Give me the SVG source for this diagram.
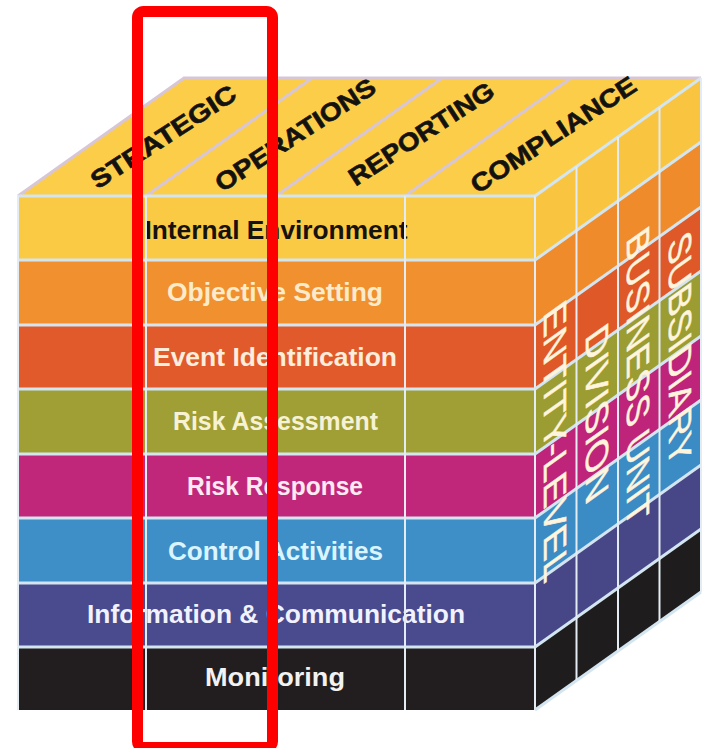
<svg xmlns="http://www.w3.org/2000/svg" width="705" height="748" viewBox="0 0 705 748">
<style>
.ft{font-family:"Liberation Sans",Arial,sans-serif;font-weight:bold;font-size:25px;text-anchor:middle}
.tt{font-family:"Liberation Sans",Arial,sans-serif;font-weight:bold;font-size:25px;text-anchor:middle;fill:#141210;stroke:#141210;stroke-width:0.6}
.rt{font-family:"Liberation Sans",Arial,sans-serif;font-size:32px;fill:#FFF4DC;stroke:#FFF4DC;stroke-width:0.5}
.gl{stroke:#D3E5F0;stroke-width:3;fill:none}
.gv{stroke:#E2ECF2;stroke-width:2;fill:none}
.tl{stroke:#D8C6D6;stroke-width:3;fill:none}
</style>
<rect width="705" height="748" fill="#FFFFFF"/>

<g id="top-face">
  <polygon points="18,196 184,78 701,78 535,196" fill="#FBCD48"/>
  <g id="top-lines">
    <line class="tl" x1="146" y1="196" x2="312" y2="78"/>
    <line class="tl" x1="276" y1="196" x2="442" y2="78"/>
    <line class="tl" x1="405" y1="196" x2="571" y2="78"/>
    <polyline class="tl" points="18,196 184,78 701,78"/>
  </g>
  <g id="obj-strategic"><text class="tt" transform="translate(168,144) rotate(-33)" textLength="168" lengthAdjust="spacingAndGlyphs">STRATEGIC</text></g>
  <g id="obj-operations"><text class="tt" transform="translate(300,142) rotate(-33)" textLength="186" lengthAdjust="spacingAndGlyphs">OPERATIONS</text></g>
  <g id="obj-reporting"><text class="tt" transform="translate(426,141) rotate(-33)" textLength="168" lengthAdjust="spacingAndGlyphs">REPORTING</text></g>
  <g id="obj-compliance"><text class="tt" transform="translate(558,142) rotate(-33)" textLength="192" lengthAdjust="spacingAndGlyphs">COMPLIANCE</text></g>
</g>

<g id="front-face">
  <g id="row-internal-environment">
    <rect x="18" y="196" width="517" height="64" fill="#FBCA44"/>
    <text class="ft" x="276" y="239" fill="#15120F" textLength="263" lengthAdjust="spacingAndGlyphs">Internal Environment</text>
  </g>
  <g id="row-objective-setting">
    <rect x="18" y="260" width="517" height="65" fill="#F1902E"/>
    <text class="ft" x="275" y="301" fill="#FCEBCB" textLength="216" lengthAdjust="spacingAndGlyphs">Objective Setting</text>
  </g>
  <g id="row-event-identification">
    <rect x="18" y="325" width="517" height="64" fill="#E05A2B"/>
    <text class="ft" x="275" y="366" fill="#FDEDDD" textLength="244" lengthAdjust="spacingAndGlyphs">Event Identification</text>
  </g>
  <g id="row-risk-assessment">
    <rect x="18" y="389" width="517" height="65" fill="#9F9F35"/>
    <text class="ft" x="275.5" y="430" fill="#F7F2D4" textLength="205" lengthAdjust="spacingAndGlyphs">Risk Assessment</text>
  </g>
  <g id="row-risk-response">
    <rect x="18" y="454" width="517" height="64" fill="#C0277B"/>
    <text class="ft" x="275" y="495" fill="#FCEAF2" textLength="176" lengthAdjust="spacingAndGlyphs">Risk Response</text>
  </g>
  <g id="row-control-activities">
    <rect x="18" y="518" width="517" height="65" fill="#3E8FC8"/>
    <text class="ft" x="275.5" y="560" fill="#DAF5FF" textLength="215" lengthAdjust="spacingAndGlyphs">Control Activities</text>
  </g>
  <g id="row-information-communication">
    <rect x="18" y="583" width="517" height="64" fill="#4A4A8E"/>
    <text class="ft" x="276" y="623" fill="#F2F2FF" textLength="378" lengthAdjust="spacingAndGlyphs">Information &amp; Communication</text>
  </g>
  <g id="row-monitoring">
    <rect x="18" y="647" width="517" height="63" fill="#221E1F"/>
    <text class="ft" x="275" y="686" fill="#F2F2F2" textLength="140" lengthAdjust="spacingAndGlyphs">Monitoring</text>
  </g>
</g>

<g id="right-face">
  <polygon points="535,196 701,78 701,142 535,260" fill="#F9C540"/>
  <polygon points="535,260 701,142 701,207 535,325" fill="#EF8B2B"/>
  <polygon points="535,325 701,207 701,271 535,389" fill="#DE5828"/>
  <polygon points="535,389 701,271 701,336 535,454" fill="#9B9D33"/>
  <polygon points="535,454 701,336 701,400 535,518" fill="#BE2479"/>
  <polygon points="535,518 701,400 701,465 535,583" fill="#3B8CC5"/>
  <polygon points="535,583 701,465 701,529 535,647" fill="#474788"/>
  <polygon points="535,647 701,529 701,592 535,710" fill="#1F1C1D"/>
</g>

<g id="grid-lines">
  <line class="gl" x1="18" y1="260" x2="535" y2="260"/>
  <line class="gl" x1="18" y1="325" x2="535" y2="325"/>
  <line class="gl" x1="18" y1="389" x2="535" y2="389"/>
  <line class="gl" x1="18" y1="454" x2="535" y2="454"/>
  <line class="gl" x1="18" y1="518" x2="535" y2="518"/>
  <line class="gl" x1="18" y1="583" x2="535" y2="583"/>
  <line class="gl" x1="18" y1="647" x2="535" y2="647"/>
  <line class="gl" x1="18" y1="196" x2="535" y2="196"/>
  <line class="gv" x1="146" y1="196" x2="146" y2="710"/>
  <line class="gv" x1="276" y1="196" x2="276" y2="710"/>
  <line class="gv" x1="405" y1="196" x2="405" y2="710"/>
  <line class="gv" x1="535" y1="196" x2="535" y2="710"/>
  <line class="gv" x1="18" y1="196" x2="18" y2="710"/>
  <line class="gl" x1="535" y1="196" x2="701" y2="78"/>
  <line class="gl" x1="535" y1="260" x2="701" y2="142"/>
  <line class="gl" x1="535" y1="325" x2="701" y2="207"/>
  <line class="gl" x1="535" y1="389" x2="701" y2="271"/>
  <line class="gl" x1="535" y1="454" x2="701" y2="336"/>
  <line class="gl" x1="535" y1="518" x2="701" y2="400"/>
  <line class="gl" x1="535" y1="583" x2="701" y2="465"/>
  <line class="gl" x1="535" y1="647" x2="701" y2="529"/>
  <line class="gl" x1="535" y1="710" x2="701" y2="592"/>
  <line class="gv" x1="576.5" y1="166.5" x2="576.5" y2="680.5"/>
  <line class="gv" x1="618" y1="137" x2="618" y2="651"/>
  <line class="gv" x1="659.5" y1="107.5" x2="659.5" y2="621.5"/>
  <line class="gv" x1="701" y1="78" x2="701" y2="592"/>
</g>

<g id="right-labels">
  <g id="unit-entity-level"><text class="rt" transform="matrix(0,1,-1,0.715,544,313)" textLength="272" lengthAdjust="spacingAndGlyphs">ENTITY-LEVEL</text></g>
  <g id="unit-division"><text class="rt" transform="matrix(0,1,-1,0.715,586,336)" textLength="171" lengthAdjust="spacingAndGlyphs">DIVISION</text></g>
  <g id="unit-business-unit"><text class="rt" transform="matrix(0,1,-1,0.715,627,239)" textLength="291" lengthAdjust="spacingAndGlyphs">BUSINESS UNIT</text></g>
  <g id="unit-subsidiary"><text class="rt" transform="matrix(0,1,-1,0.715,669,243)" textLength="227" lengthAdjust="spacingAndGlyphs">SUBSIDIARY</text></g>
</g>

<g id="highlight">
  <rect x="137.5" y="11.5" width="135" height="736" rx="6" fill="none" stroke="#FF0000" stroke-width="11"/>
</g>
</svg>
